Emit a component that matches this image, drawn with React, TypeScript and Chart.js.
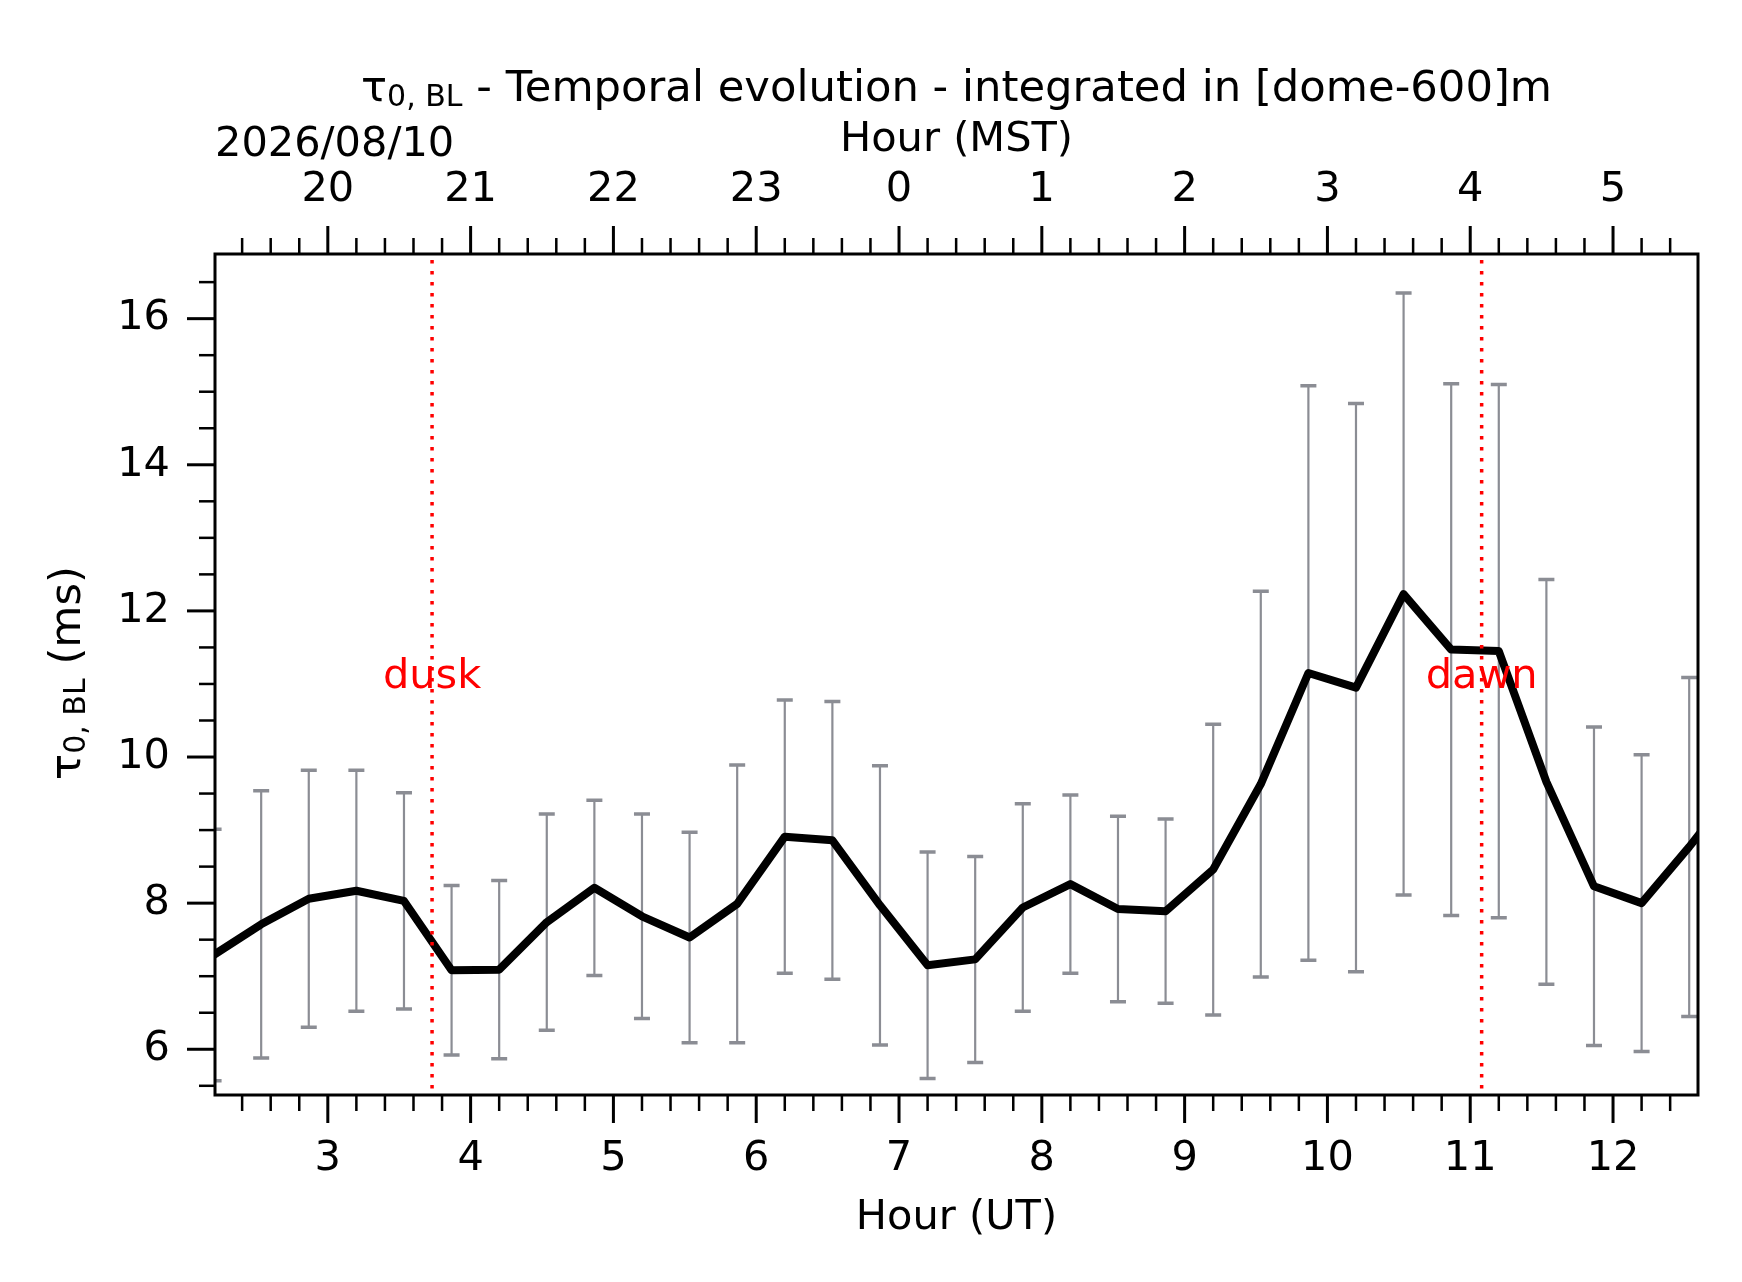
import { useEffect, useRef } from 'react';
import { Chart, registerables } from 'chart.js';

Chart.register(...registerables);

// 20-minute samples (UT)
const sampleTimes = [
  '02:12', '02:32', '02:52', '03:12', '03:32', '03:52', '04:12', '04:32', '04:52',
  '05:12', '05:32', '05:52', '06:12', '06:32', '06:52', '07:12', '07:32', '07:52',
  '08:12', '08:32', '08:52', '09:12', '09:32', '09:52', '10:12', '10:32', '10:52',
  '11:12', '11:32', '11:52', '12:12', '12:32', '12:52',
];
const tauMean = [
  7.29, 7.71, 8.06, 8.17, 8.03, 7.08, 7.09, 7.74, 8.21,
  7.82, 7.53, 7.99, 8.91, 8.86, 7.97, 7.15, 7.23, 7.94,
  8.26, 7.92, 7.89, 8.46, 9.63, 11.15, 10.95, 12.23, 11.47,
  11.45, 9.66, 8.23, 8.0, 8.77, 9.6,
];
const tauStd = [
  1.72, 1.83, 1.76, 1.65, 1.48, 1.16, 1.22, 1.48, 1.2,
  1.4, 1.44, 1.9, 1.87, 1.9, 1.91, 1.55, 1.41, 1.42,
  1.22, 1.27, 1.26, 1.99, 2.64, 3.93, 3.89, 4.12, 3.64,
  3.65, 2.77, 2.18, 2.03, 2.32, 2.3,
];

const utTicks = [3, 4, 5, 6, 7, 8, 9, 10, 11, 12];
const yTicks = [6, 8, 10, 12, 14, 16];
const mstOffset = -7;
const duskHour = 3.73;
const dawnHour = 11.08;
const twilightLabelY = 10.95;
const dateLabel = '2026/08/10';

const FONT = "'DejaVu Sans', sans-serif";
const W = 1742;
const H = 1282;
const AREA = { left: 215, right: 1698, top: 254, bottom: 1095 };

const toHours = (t: string) => {
  const [h, m] = t.split(':').map(Number);
  return h + m / 60;
};

type Part = { text: string; size: number; dy?: number };

function drawRich(ctx: CanvasRenderingContext2D, parts: Part[], x: number, y: number, align: 'left' | 'center') {
  const widths = parts.map((p) => {
    ctx.font = `${p.size}px ${FONT}`;
    return ctx.measureText(p.text).width;
  });
  const total = widths.reduce((a, b) => a + b, 0);
  let cx = align === 'center' ? x - total / 2 : x;
  ctx.textAlign = 'left';
  ctx.textBaseline = 'alphabetic';
  parts.forEach((p, i) => {
    ctx.font = `${p.size}px ${FONT}`;
    ctx.fillText(p.text, cx, y + (p.dy || 0));
    cx += widths[i];
  });
}

const tauParts = (tail: string): Part[] => [
  { text: 'τ', size: 43.3 },
  { text: '0, BL', size: 30, dy: 5 },
  { text: tail, size: 43.3 },
];

const decorPlugin = {
  id: 'decor',
  beforeDatasetsDraw(chart: any) {
    const { ctx, chartArea, scales } = chart;
    const xs = scales.x;
    const ys = scales.y;
    ctx.save();
    ctx.beginPath();
    ctx.rect(chartArea.left, chartArea.top, chartArea.right - chartArea.left, chartArea.bottom - chartArea.top);
    ctx.clip();
    ctx.strokeStyle = 'rgb(139,141,148)';
    sampleTimes.forEach((t, i) => {
      const px = xs.getPixelForValue(toHours(t));
      const hi = ys.getPixelForValue(tauMean[i] + tauStd[i]);
      const lo = ys.getPixelForValue(tauMean[i] - tauStd[i]);
      ctx.lineWidth = 2.2;
      ctx.beginPath();
      ctx.moveTo(px, hi);
      ctx.lineTo(px, lo);
      ctx.stroke();
      ctx.lineWidth = 3.5;
      ctx.beginPath();
      ctx.moveTo(px - 8, hi);
      ctx.lineTo(px + 8, hi);
      ctx.moveTo(px - 8, lo);
      ctx.lineTo(px + 8, lo);
      ctx.stroke();
    });
    ctx.restore();
  },
  afterDatasetsDraw(chart: any) {
    const { ctx, chartArea, scales } = chart;
    const xs = scales.x;
    const ys = scales.y;
    ctx.save();
    ctx.strokeStyle = '#ff0000';
    ctx.fillStyle = '#ff0000';
    ctx.lineWidth = 3.5;
    ctx.setLineDash([3.5, 7.5]);
    [
      { h: duskHour, label: 'dusk' },
      { h: dawnHour, label: 'dawn' },
    ].forEach(({ h, label }) => {
      const px = xs.getPixelForValue(h);
      ctx.beginPath();
      ctx.moveTo(px, chartArea.top + 6);
      ctx.lineTo(px, chartArea.bottom);
      ctx.stroke();
      ctx.font = `41.5px ${FONT}`;
      ctx.textAlign = 'center';
      ctx.textBaseline = 'alphabetic';
      ctx.fillText(label, px, ys.getPixelForValue(twilightLabelY));
    });
    ctx.restore();
  },
  afterDraw(chart: any) {
    const { ctx, chartArea, scales } = chart;
    const xs = scales.x;
    const ys = scales.y;
    ctx.save();
    ctx.strokeStyle = '#000';
    // frame
    ctx.lineWidth = 3;
    ctx.strokeRect(chartArea.left, chartArea.top, chartArea.right - chartArea.left, chartArea.bottom - chartArea.top);
    // x ticks, bottom and top
    for (let v = 24; v <= 126; v += 2) {
      const val = v / 10;
      if (val <= xs.min || val >= xs.max) continue;
      const major = v % 10 === 0;
      const len = major ? 28 : 16;
      const px = xs.getPixelForValue(val);
      ctx.lineWidth = major ? 3 : 2.5;
      ctx.beginPath();
      ctx.moveTo(px, chartArea.bottom);
      ctx.lineTo(px, chartArea.bottom + len);
      ctx.moveTo(px, chartArea.top);
      ctx.lineTo(px, chartArea.top - len);
      ctx.stroke();
    }
    // y ticks, left only
    for (let v = 55; v <= 165; v += 5) {
      const val = v / 10;
      const major = v % 20 === 0;
      const len = major ? 28 : 16;
      const py = ys.getPixelForValue(val);
      ctx.lineWidth = major ? 3 : 2.5;
      ctx.beginPath();
      ctx.moveTo(chartArea.left, py);
      ctx.lineTo(chartArea.left - len, py);
      ctx.stroke();
    }
    ctx.restore();

    ctx.save();
    ctx.fillStyle = '#000';
    const cx = (chartArea.left + chartArea.right) / 2;
    drawRich(ctx, tauParts(' - Temporal evolution - integrated in [dome-600]m'), cx, 101, 'center');
    drawRich(ctx, [{ text: 'Hour (MST)', size: 41.5 }], cx, 151, 'center');
    drawRich(ctx, [{ text: dateLabel, size: 41.5 }], chartArea.left, 156, 'left');
    drawRich(ctx, [{ text: 'Hour (UT)', size: 41.5 }], cx, 1229, 'center');
    ctx.translate(80, 673);
    ctx.rotate(-Math.PI / 2);
    drawRich(ctx, tauParts(' (ms)'), 0, 0, 'center');
    ctx.restore();
  },
};

export default function App() {
  const canvasRef = useRef<HTMLCanvasElement>(null);
  const chartRef = useRef<Chart | null>(null);

  useEffect(() => {
    if (!canvasRef.current) return;
    if (chartRef.current) chartRef.current.destroy();

    const points = sampleTimes.map((t, i) => ({ x: toHours(t), y: tauMean[i] }));
    const tickFont = { family: FONT, size: 41.5 };

    chartRef.current = new Chart(canvasRef.current, {
      type: 'line',
      data: {
        datasets: [
          {
            data: points,
            borderColor: '#000',
            borderWidth: 8,
            borderJoinStyle: 'round',
            pointRadius: 0,
            tension: 0,
            clip: 0,
          },
        ],
      },
      options: {
        responsive: false,
        maintainAspectRatio: false,
        devicePixelRatio: 1,
        animation: false,
        events: [],
        layout: { autoPadding: false, padding: { left: 0, right: W - AREA.right, top: 0, bottom: 0 } },
        plugins: { legend: { display: false }, tooltip: { enabled: false }, title: { display: false } },
        scales: {
          x: {
            type: 'linear',
            position: 'bottom',
            min: 2.21,
            max: 12.595,
            afterBuildTicks: (s: any) => {
              s.ticks = utTicks.map((v) => ({ value: v }));
            },
            afterFit: (s: any) => {
              s.height = H - AREA.bottom;
            },
            ticks: { font: tickFont, color: '#000', padding: 39, maxRotation: 0, autoSkip: false },
            grid: { display: false, drawTicks: false },
            border: { display: false },
          },
          x2: {
            type: 'linear',
            position: 'top',
            min: 2.21,
            max: 12.595,
            afterBuildTicks: (s: any) => {
              s.ticks = utTicks.map((v) => ({ value: v }));
            },
            afterFit: (s: any) => {
              s.height = AREA.top;
            },
            ticks: {
              font: tickFont,
              color: '#000',
              padding: 39,
              maxRotation: 0,
              autoSkip: false,
              callback: (v: any) => String((((Number(v) + mstOffset) % 24) + 24) % 24),
            },
            grid: { display: false, drawTicks: false },
            border: { display: false },
          },
          y: {
            type: 'linear',
            position: 'left',
            min: 5.374,
            max: 16.885,
            afterBuildTicks: (s: any) => {
              s.ticks = yTicks.map((v) => ({ value: v }));
            },
            afterFit: (s: any) => {
              s.width = AREA.left;
            },
            ticks: { font: tickFont, color: '#000', padding: 45, autoSkip: false },
            grid: { display: false, drawTicks: false },
            border: { display: false },
          },
        },
      },
      plugins: [decorPlugin],
    } as any);

    return () => {
      if (chartRef.current) {
        chartRef.current.destroy();
        chartRef.current = null;
      }
    };
  }, []);

  return (
    <div style={{ position: 'absolute', left: 0, top: 0, width: W, height: H, background: '#fff' }}>
      <canvas ref={canvasRef} width={W} height={H} style={{ display: 'block' }} />
    </div>
  );
}
